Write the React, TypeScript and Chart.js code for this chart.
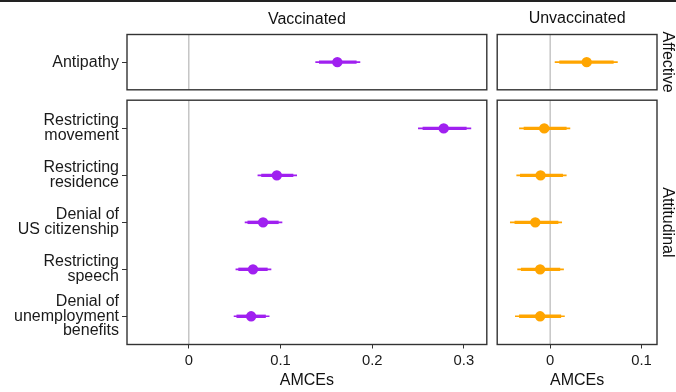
import React, { useEffect, useRef } from "react";
import { Chart, registerables } from "chart.js";

Chart.register(...registerables);

const FONT = '"Liberation Sans", Arial, Helvetica, sans-serif';

// ---------- Data ----------
const columnTitles = ["Vaccinated", "Unvaccinated"];
const rowTitles = ["Affective", "Attitudinal"];

const affectiveLabels: string[][] = [["Antipathy"]];
const attitudinalLabels: string[][] = [
  ["Restricting", "movement"],
  ["Restricting", "residence"],
  ["Denial of", "US citizenship"],
  ["Restricting", "speech"],
  ["Denial of", "unemployment", "benefits"],
];

// Vaccinated – Affective
const vacAffEst = [0.162];
const vacAffLo95 = [0.138];
const vacAffHi95 = [0.187];
const vacAffLo90 = [0.142];
const vacAffHi90 = [0.183];

// Vaccinated – Attitudinal
const vacAttEst = [0.278, 0.096, 0.081, 0.07, 0.068];
const vacAttLo95 = [0.25, 0.075, 0.061, 0.051, 0.049];
const vacAttHi95 = [0.308, 0.118, 0.102, 0.09, 0.088];
const vacAttLo90 = [0.255, 0.079, 0.064, 0.054, 0.052];
const vacAttHi90 = [0.303, 0.114, 0.098, 0.086, 0.084];

// Unvaccinated – Affective
const unvAffEst = [0.04];
const unvAffLo95 = [0.005];
const unvAffHi95 = [0.074];
const unvAffLo90 = [0.01];
const unvAffHi90 = [0.0695];

// Unvaccinated – Attitudinal
const unvAttEst = [-0.0065, -0.0105, -0.0163, -0.011, -0.011];
const unvAttLo95 = [-0.034, -0.037, -0.044, -0.036, -0.0385];
const unvAttHi95 = [0.022, 0.018, 0.013, 0.015, 0.016];
const unvAttLo90 = [-0.029, -0.033, -0.039, -0.032, -0.034];
const unvAttHi90 = [0.018, 0.014, 0.009, 0.011, 0.012];

// Axis ranges and ticks
const vacRange = [-0.0674, 0.325];
const unvRange = [-0.058, 0.117];
const vacTicks = [0, 0.1, 0.2, 0.3];
const vacTickLabels = ["0", "0.1", "0.2", "0.3"];
const unvTicks = [0, 0.1];
const unvTickLabels = ["0", "0.1"];
const xTitle = "AMCEs";

const vacColor = "#A020F0";
const unvColor = "#FFA500";

type PanelProps = {
  left: number;
  top: number;
  width: number;
  height: number;
  padding: { left: number; right: number; top: number; bottom: number };
  est: number[];
  lo95: number[];
  hi95: number[];
  lo90: number[];
  hi90: number[];
  color: string;
  range: number[];
  ticks: number[];
  tickLabels: string[];
  yLabels: string[][];
  showY: boolean;
  showX: boolean;
  title?: string;
  titleY?: number;
  strip?: string;
  stripX?: number;
};

function Panel(p: PanelProps) {
  const ref = useRef<HTMLCanvasElement | null>(null);
  useEffect(() => {
    if (!ref.current) return;
    const n = p.est.length;
    const panelPlugin = {
      id: "panelPlugin",
      beforeDatasetsDraw(chart: any) {
        const { ctx, chartArea, scales } = chart;
        const xs = scales.x;
        const ys = scales.y;
        ctx.save();
        // zero reference line
        const x0 = xs.getPixelForValue(0);
        ctx.strokeStyle = "#bdbdbd";
        ctx.lineWidth = 1.3;
        ctx.beginPath();
        ctx.moveTo(x0, chartArea.top);
        ctx.lineTo(x0, chartArea.bottom);
        ctx.stroke();
        // error bars
        ctx.strokeStyle = p.color;
        ctx.lineCap = "butt";
        for (let i = 0; i < n; i++) {
          const y = ys.getPixelForValue(i);
          ctx.lineWidth = 1.6;
          ctx.beginPath();
          ctx.moveTo(xs.getPixelForValue(p.lo95[i]), y);
          ctx.lineTo(xs.getPixelForValue(p.hi95[i]), y);
          ctx.stroke();
          ctx.lineWidth = 3.4;
          ctx.beginPath();
          ctx.moveTo(xs.getPixelForValue(p.lo90[i]), y);
          ctx.lineTo(xs.getPixelForValue(p.hi90[i]), y);
          ctx.stroke();
        }
        ctx.restore();
      },
      afterDraw(chart: any) {
        const { ctx, chartArea } = chart;
        ctx.save();
        ctx.strokeStyle = "#333333";
        ctx.lineWidth = 1.4;
        ctx.strokeRect(
          chartArea.left,
          chartArea.top,
          chartArea.right - chartArea.left,
          chartArea.bottom - chartArea.top
        );
        ctx.fillStyle = "#111111";
        ctx.font = `16px ${FONT}`;
        if (p.title) {
          ctx.textAlign = "center";
          ctx.textBaseline = "middle";
          ctx.fillText(p.title, (chartArea.left + chartArea.right) / 2, p.titleY ?? 20);
        }
        if (p.strip) {
          ctx.translate(p.stripX ?? 175, (chartArea.top + chartArea.bottom) / 2);
          ctx.rotate(Math.PI / 2);
          ctx.textAlign = "center";
          ctx.textBaseline = "middle";
          ctx.fillText(p.strip, 0, 0);
        }
        ctx.restore();
      },
    };

    const chart = new Chart(ref.current, {
      type: "scatter",
      data: {
        datasets: [
          {
            data: p.est.map((v, i) => ({ x: v, y: i })),
            backgroundColor: p.color,
            borderColor: p.color,
            borderWidth: 0,
            pointRadius: 5.2,
            pointHoverRadius: 5.2,
          },
        ],
      },
      options: {
        animation: false,
        responsive: false,
        maintainAspectRatio: false,
        devicePixelRatio: 1,
        events: [],
        layout: { padding: p.padding },
        plugins: {
          legend: { display: false },
          tooltip: { enabled: false },
          title: { display: false },
        },
        scales: {
          x: {
            type: "linear",
            min: p.range[0],
            max: p.range[1],
            display: p.showX,
            afterBuildTicks: (s: any) => {
              s.ticks = p.ticks.map((v) => ({ value: v }));
            },
            afterFit: (s: any) => {
              s.paddingLeft = 0;
              s.paddingRight = 0;
              s.paddingTop = 0;
              s.paddingBottom = 0;
              if (p.showX) {
                s.height = p.height - p.padding.bottom - (344.5 - p.top);
              }
            },
            grid: {
              drawOnChartArea: false,
              drawTicks: true,
              tickLength: 4,
              tickColor: "#333333",
              tickWidth: 1,
              color: "#333333",
            },
            border: { display: false },
            ticks: {
              padding: 4,
              color: "#1a1a1a",
              font: { family: FONT, size: 14.8 },
              maxRotation: 0,
              autoSkip: false,
              callback: (_v: any, i: number) => p.tickLabels[i],
            },
            title: {
              display: true,
              text: xTitle,
              color: "#111111",
              font: { family: FONT, size: 16 },
              padding: { top: 0, bottom: 2 },
            },
          },
          y: {
            type: "linear",
            reverse: true,
            min: -0.6,
            max: n - 1 + 0.6,
            display: p.showY,
            afterBuildTicks: (s: any) => {
              s.ticks = p.yLabels.map((_, i) => ({ value: i }));
            },
            afterFit: (s: any) => {
              s.paddingLeft = 0;
              s.paddingRight = 0;
              s.paddingTop = 0;
              s.paddingBottom = 0;
              if (p.showY) {
                s.width = 127;
              }
            },
            grid: {
              drawOnChartArea: false,
              drawTicks: true,
              tickLength: 5,
              tickColor: "#333333",
              tickWidth: 1,
              color: "#333333",
            },
            border: { display: false },
            ticks: {
              padding: 3,
              color: "#1a1a1a",
              font: { family: FONT, size: 16, lineHeight: 0.92 },
              autoSkip: false,
              callback: (_v: any, i: number) => p.yLabels[i],
            },
          },
        },
      } as any,
      plugins: [panelPlugin],
    });
    return () => chart.destroy();
  }, []);

  return (
    <canvas
      ref={ref}
      width={p.width}
      height={p.height}
      style={{
        position: "absolute",
        left: p.left,
        top: p.top,
        width: p.width,
        height: p.height,
      }}
    />
  );
}

export default function App() {
  return (
    <div
      style={{
        position: "fixed",
        left: 0,
        top: 0,
        width: 676,
        height: 392,
        background: "#ffffff",
        overflow: "hidden",
      }}
    >
      <div
        style={{
          position: "absolute",
          left: 0,
          top: 0,
          width: 676,
          height: 2,
          background: "#222222",
        }}
      />
      <Panel
        left={0}
        top={0}
        width={492}
        height={95}
        padding={{ left: 0, right: 4.5, top: 34.5, bottom: 4 }}
        est={vacAffEst}
        lo95={vacAffLo95}
        hi95={vacAffHi95}
        lo90={vacAffLo90}
        hi90={vacAffHi90}
        color={vacColor}
        range={vacRange}
        ticks={vacTicks}
        tickLabels={vacTickLabels}
        yLabels={affectiveLabels}
        showY={true}
        showX={false}
        title={columnTitles[0]}
        titleY={20}
      />
      <Panel
        left={492}
        top={0}
        width={184}
        height={95}
        padding={{ left: 3.5, right: 19, top: 34.5, bottom: 4 }}
        est={unvAffEst}
        lo95={unvAffLo95}
        hi95={unvAffHi95}
        lo90={unvAffLo90}
        hi90={unvAffHi90}
        color={unvColor}
        range={unvRange}
        ticks={unvTicks}
        tickLabels={unvTickLabels}
        yLabels={affectiveLabels}
        showY={false}
        showX={false}
        title={columnTitles[1]}
        titleY={18.5}
        strip={rowTitles[0]}
        stripX={175}
      />
      <Panel
        left={0}
        top={95}
        width={492}
        height={297}
        padding={{ left: 0, right: 4.5, top: 3.5, bottom: 0 }}
        est={vacAttEst}
        lo95={vacAttLo95}
        hi95={vacAttHi95}
        lo90={vacAttLo90}
        hi90={vacAttHi90}
        color={vacColor}
        range={vacRange}
        ticks={vacTicks}
        tickLabels={vacTickLabels}
        yLabels={attitudinalLabels}
        showY={true}
        showX={true}
      />
      <Panel
        left={492}
        top={95}
        width={184}
        height={297}
        padding={{ left: 3.5, right: 19, top: 3.5, bottom: 0 }}
        est={unvAttEst}
        lo95={unvAttLo95}
        hi95={unvAttHi95}
        lo90={unvAttLo90}
        hi90={unvAttHi90}
        color={unvColor}
        range={unvRange}
        ticks={unvTicks}
        tickLabels={unvTickLabels}
        yLabels={attitudinalLabels}
        showY={false}
        showX={true}
        strip={rowTitles[1]}
        stripX={175}
      />
    </div>
  );
}
